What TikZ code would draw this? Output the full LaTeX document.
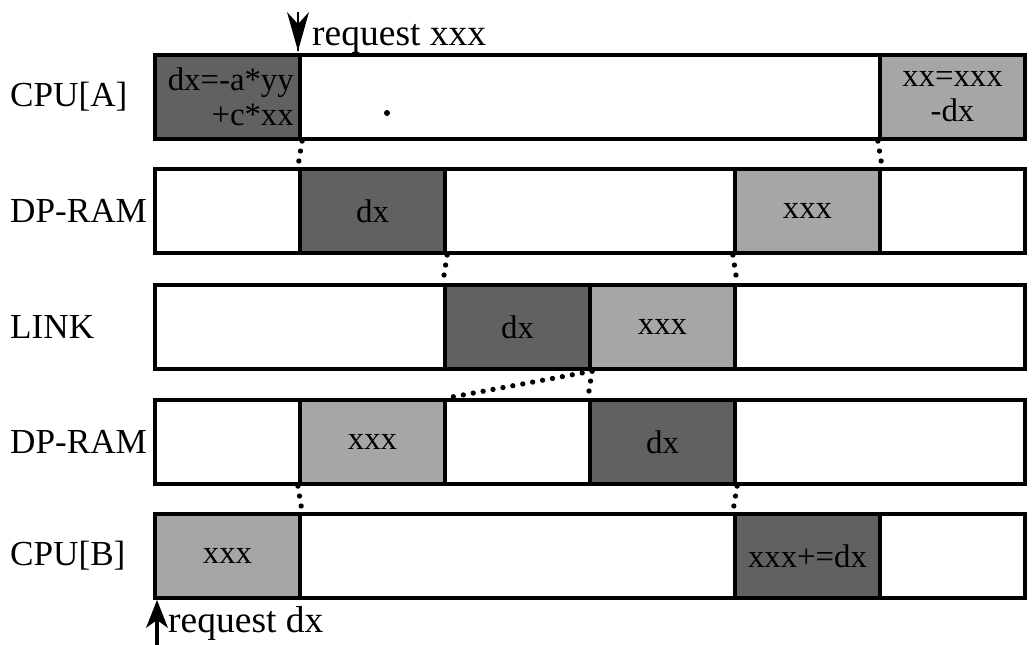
\documentclass[tikz,border=0pt]{standalone}
\usepackage{fontspec}
\setmainfont{Liberation Serif}
\usetikzlibrary{calc}
\newcommand\lanefont{\fontsize{30pt}{32pt}\selectfont}
\newcommand\reqfont{\fontsize{32pt}{34pt}\selectfont}
\newcommand\slotfont{\fontsize{28pt}{30pt}\selectfont}
\begin{document}
\begin{tikzpicture}[x=0.03cm,y=-0.03cm,
  lane/.style={draw, fill=white, line width=3.6pt, minimum width=26.1cm,
    minimum height=2.52cm, inner sep=0pt},
  slot/.style={draw, line width=3.6pt, minimum width=4.35cm,
    minimum height=2.52cm, inner sep=0pt, font=\slotfont, align=center},
  darkslot/.style={slot, fill=black!62},
  lightslot/.style={slot, fill=black!35},
  lanename/.style={anchor=west, font=\lanefont, inner sep=0pt},
  handoff/.style={line width=4.5pt, line cap=round, dash pattern=on 0pt off 8.6pt},
  request/.style={font=\reqfont, anchor=base west, inner sep=0pt}]
\useasboundingbox (0,0) rectangle (1032,645);

% lanes
\node[lane] (rowA) at (590,97)  {};
\node[lane] (rowB) at (590,211) {};
\node[lane] (rowC) at (590,327) {};
\node[lane] (rowD) at (590,442) {};
\node[lane] (rowE) at (590,556) {};

\node[lanename] (labA) at (10,97)  {CPU[A]};
\node[lanename] (labB) at (10,211) {DP-RAM};
\node[lanename] (labC) at (10,327) {LINK};
\node[lanename] (labD) at (10,442) {DP-RAM};
\node[lanename] (labE) at (10,556) {CPU[B]};

% CPU[A]
\node[darkslot]  (aCalc) at (227.5,97) {\hspace*{0.2em}dx=-a*yy\\\hfill+c*xx};
\node[lightslot] (aUpd)  at (952.5,97) {xx=xxx\\-dx};
\fill (387,113) circle (3);

% DP-RAM (A side)
\node[darkslot]  (bDx)  at (372.5,211) {dx};
\node[lightslot] (bXxx) at (807.5,211) {xxx};

% LINK
\node[darkslot]  (cDx)  at (517.5,327) {dx};
\node[lightslot] (cXxx) at (662.5,327) {xxx};

% DP-RAM (B side)
\node[lightslot] (dXxx) at (372.5,442) {xxx};
\node[darkslot]  (dDx)  at (662.5,442) {dx};

% CPU[B]
\node[lightslot] (eXxx) at (227.5,556) {xxx};
\node[darkslot]  (eUpd) at (807.5,556) {xxx+=dx};

% hand-offs between lanes
\draw[handoff] (aCalc.south east) -- (bDx.north west);
\draw[handoff] (aUpd.south west)  -- (bXxx.north east);
\draw[handoff] (bDx.south east)   -- (cDx.north west);
\draw[handoff] (bXxx.south west)  -- (cXxx.north east);
\draw[handoff] (cDx.south east)   -- (dDx.north west);
\draw[handoff] (cDx.south east)   -- (dXxx.north east);
\draw[handoff] (dXxx.south west)  -- (eXxx.north east);
\draw[handoff] (dDx.south east)   -- (eUpd.north west);

% requests: notched wedge heads
\coordinate (reqAfrom) at (298,12);
\coordinate (reqAto)   at (298,51);
\draw[line width=2.5pt] (reqAfrom) -- (reqAto);
\fill (reqAto) -- ++(-11,-39) -- ++(11,12) -- ++(11,-12) -- cycle;
\node[request] (reqAtxt) at (312,45) {request xxx};

\coordinate (reqBfrom) at (157,648);
\coordinate (reqBto)   at (157,600);
\draw[line width=3pt] (reqBfrom) -- ($(reqBto)+(0,10)$);
\fill (reqBto) -- ++(-11,28) -- ++(11,-8) -- ++(11,8) -- cycle;
\node[request] (reqBtxt) at (168,632) {request dx};
\end{tikzpicture}
\end{document}
